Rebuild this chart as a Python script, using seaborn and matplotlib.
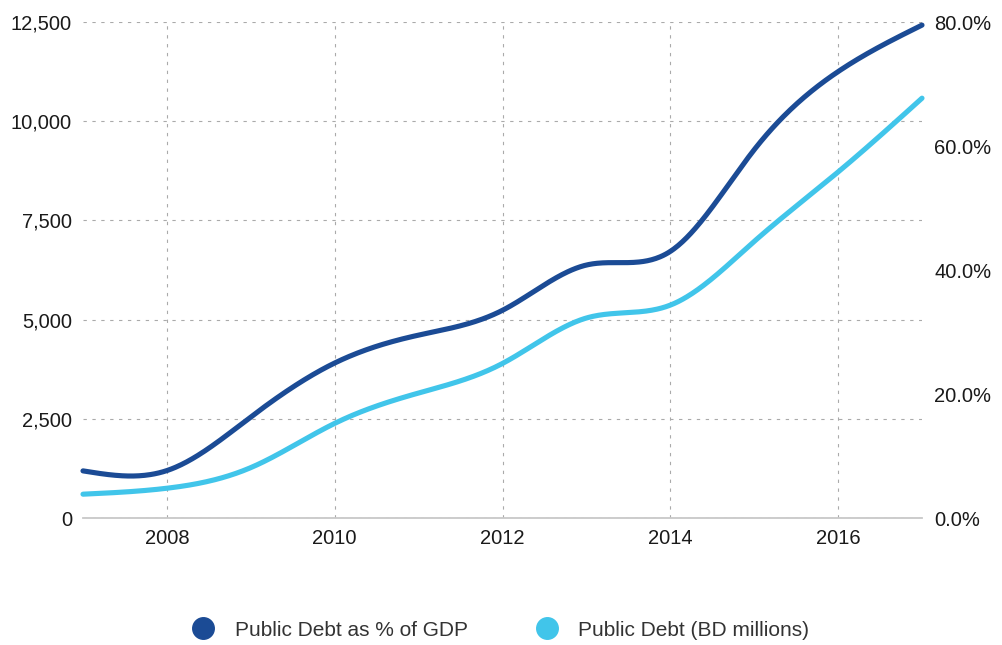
import numpy as np
import pandas as pd
import matplotlib
matplotlib.use("Agg")
import matplotlib.pyplot as plt
from matplotlib.lines import Line2D
from matplotlib.ticker import FuncFormatter, FixedLocator
import seaborn as sns

# Annual series
years = [2007, 2008, 2009, 2010, 2011, 2012, 2013, 2014, 2015, 2016, 2017]
debt_pct_gdp = [7.6, 7.65, 16.3, 25.0, 29.5, 33.5, 40.8, 43.0, 59.4, 72.0, 79.5]
debt_bd_millions = [600, 750, 1270, 2385, 3150, 3895, 5040, 5365, 6970, 8720, 10580]

series_names = ["Public Debt as % of GDP", "Public Debt (BD millions)"]
series_colors = ["#1B4B95", "#41C5EA"]

left_ticks = [0, 2500, 5000, 7500, 10000, 12500]
right_ticks = [0, 20, 40, 60, 80]
year_ticks = [2008, 2010, 2012, 2014, 2016]


def natural_spline(x, y, n=600):
    """Smooth curve through (x, y) using a natural cubic spline."""
    x = np.asarray(x, float)
    y = np.asarray(y, float)
    k = len(x)
    h = np.diff(x)
    A = np.zeros((k, k))
    b = np.zeros(k)
    A[0, 0] = A[-1, -1] = 1.0
    for i in range(1, k - 1):
        A[i, i - 1] = h[i - 1]
        A[i, i] = 2 * (h[i - 1] + h[i])
        A[i, i + 1] = h[i]
        b[i] = 6 * ((y[i + 1] - y[i]) / h[i] - (y[i] - y[i - 1]) / h[i - 1])
    m = np.linalg.solve(A, b)
    xs = np.linspace(x[0], x[-1], n)
    idx = np.clip(np.searchsorted(x, xs, side="right") - 1, 0, k - 2)
    x0, x1 = x[idx], x[idx + 1]
    hh = x1 - x0
    t0 = x1 - xs
    t1 = xs - x0
    ys = (m[idx] * t0 ** 3 / (6 * hh) + m[idx + 1] * t1 ** 3 / (6 * hh)
          + (y[idx] / hh - m[idx] * hh / 6) * t0
          + (y[idx + 1] / hh - m[idx + 1] * hh / 6) * t1)
    return pd.DataFrame({"year": xs, "value": ys})


sns.set_theme(style="white")
plt.rcParams["font.family"] = ["Liberation Sans", "DejaVu Sans"]

fig = plt.figure(figsize=(10.02, 6.45), dpi=100)
ax = fig.add_axes([83 / 1002, 1 - 518 / 645, (922 - 83) / 1002, (518 - 22) / 645])
ax2 = ax.twinx()

# Public debt in BD millions on the left scale
sns.lineplot(data=natural_spline(years, debt_bd_millions), x="year", y="value",
             ax=ax, color=series_colors[1], linewidth=3.7, sort=False,
             estimator=None, solid_capstyle="round", clip_on=False)
# Debt-to-GDP ratio on the right scale
sns.lineplot(data=natural_spline(years, debt_pct_gdp), x="year", y="value",
             ax=ax2, color=series_colors[0], linewidth=3.7, sort=False,
             estimator=None, solid_capstyle="round", clip_on=False)

ax.set_xlim(2007, 2017)
ax.set_ylim(0, 12500)
ax2.set_ylim(0, 80)

ax.xaxis.set_major_locator(FixedLocator(year_ticks))
ax.yaxis.set_major_locator(FixedLocator(left_ticks))
ax2.yaxis.set_major_locator(FixedLocator(right_ticks))
ax.yaxis.set_major_formatter(FuncFormatter(lambda v, p: f"{v:,.0f}"))
ax2.yaxis.set_major_formatter(FuncFormatter(lambda v, p: f"{v:.1f}%"))

ax.set_xlabel("")
ax.set_ylabel("")
ax2.set_ylabel("")

tick_color = "#1a1a1a"
ax.tick_params(axis="x", length=0, pad=8, labelsize=14.5, labelcolor=tick_color)
ax.tick_params(axis="y", length=0, pad=8, labelsize=14.5, labelcolor=tick_color)
ax2.tick_params(axis="y", length=0, pad=9, labelsize=14.5, labelcolor=tick_color)

ax.grid(True, color="#aaaaaa", linewidth=0.8, linestyle=(0, (3, 5)))
ax2.grid(False)

for a in (ax, ax2):
    for side in ("left", "right", "top", "bottom"):
        a.spines[side].set_visible(False)
ax.spines["bottom"].set_visible(True)
ax.spines["bottom"].set_color("#c8c8c8")
ax.spines["bottom"].set_linewidth(1.3)
ax.set_zorder(ax2.get_zorder() - 1)
ax2.patch.set_visible(False)

handles = [Line2D([], [], linestyle="none", marker="o", markersize=15.5,
                  markerfacecolor=c, markeredgecolor=c) for c in series_colors]
fig.legend(handles, series_names, loc="center", bbox_to_anchor=(0.5, 1 - 630 / 645),
           ncol=2, frameon=False, fontsize=15, handlelength=1.0,
           handletextpad=1.0, columnspacing=3.3, labelcolor="#333333")

fig.savefig("out.png", dpi=100)
